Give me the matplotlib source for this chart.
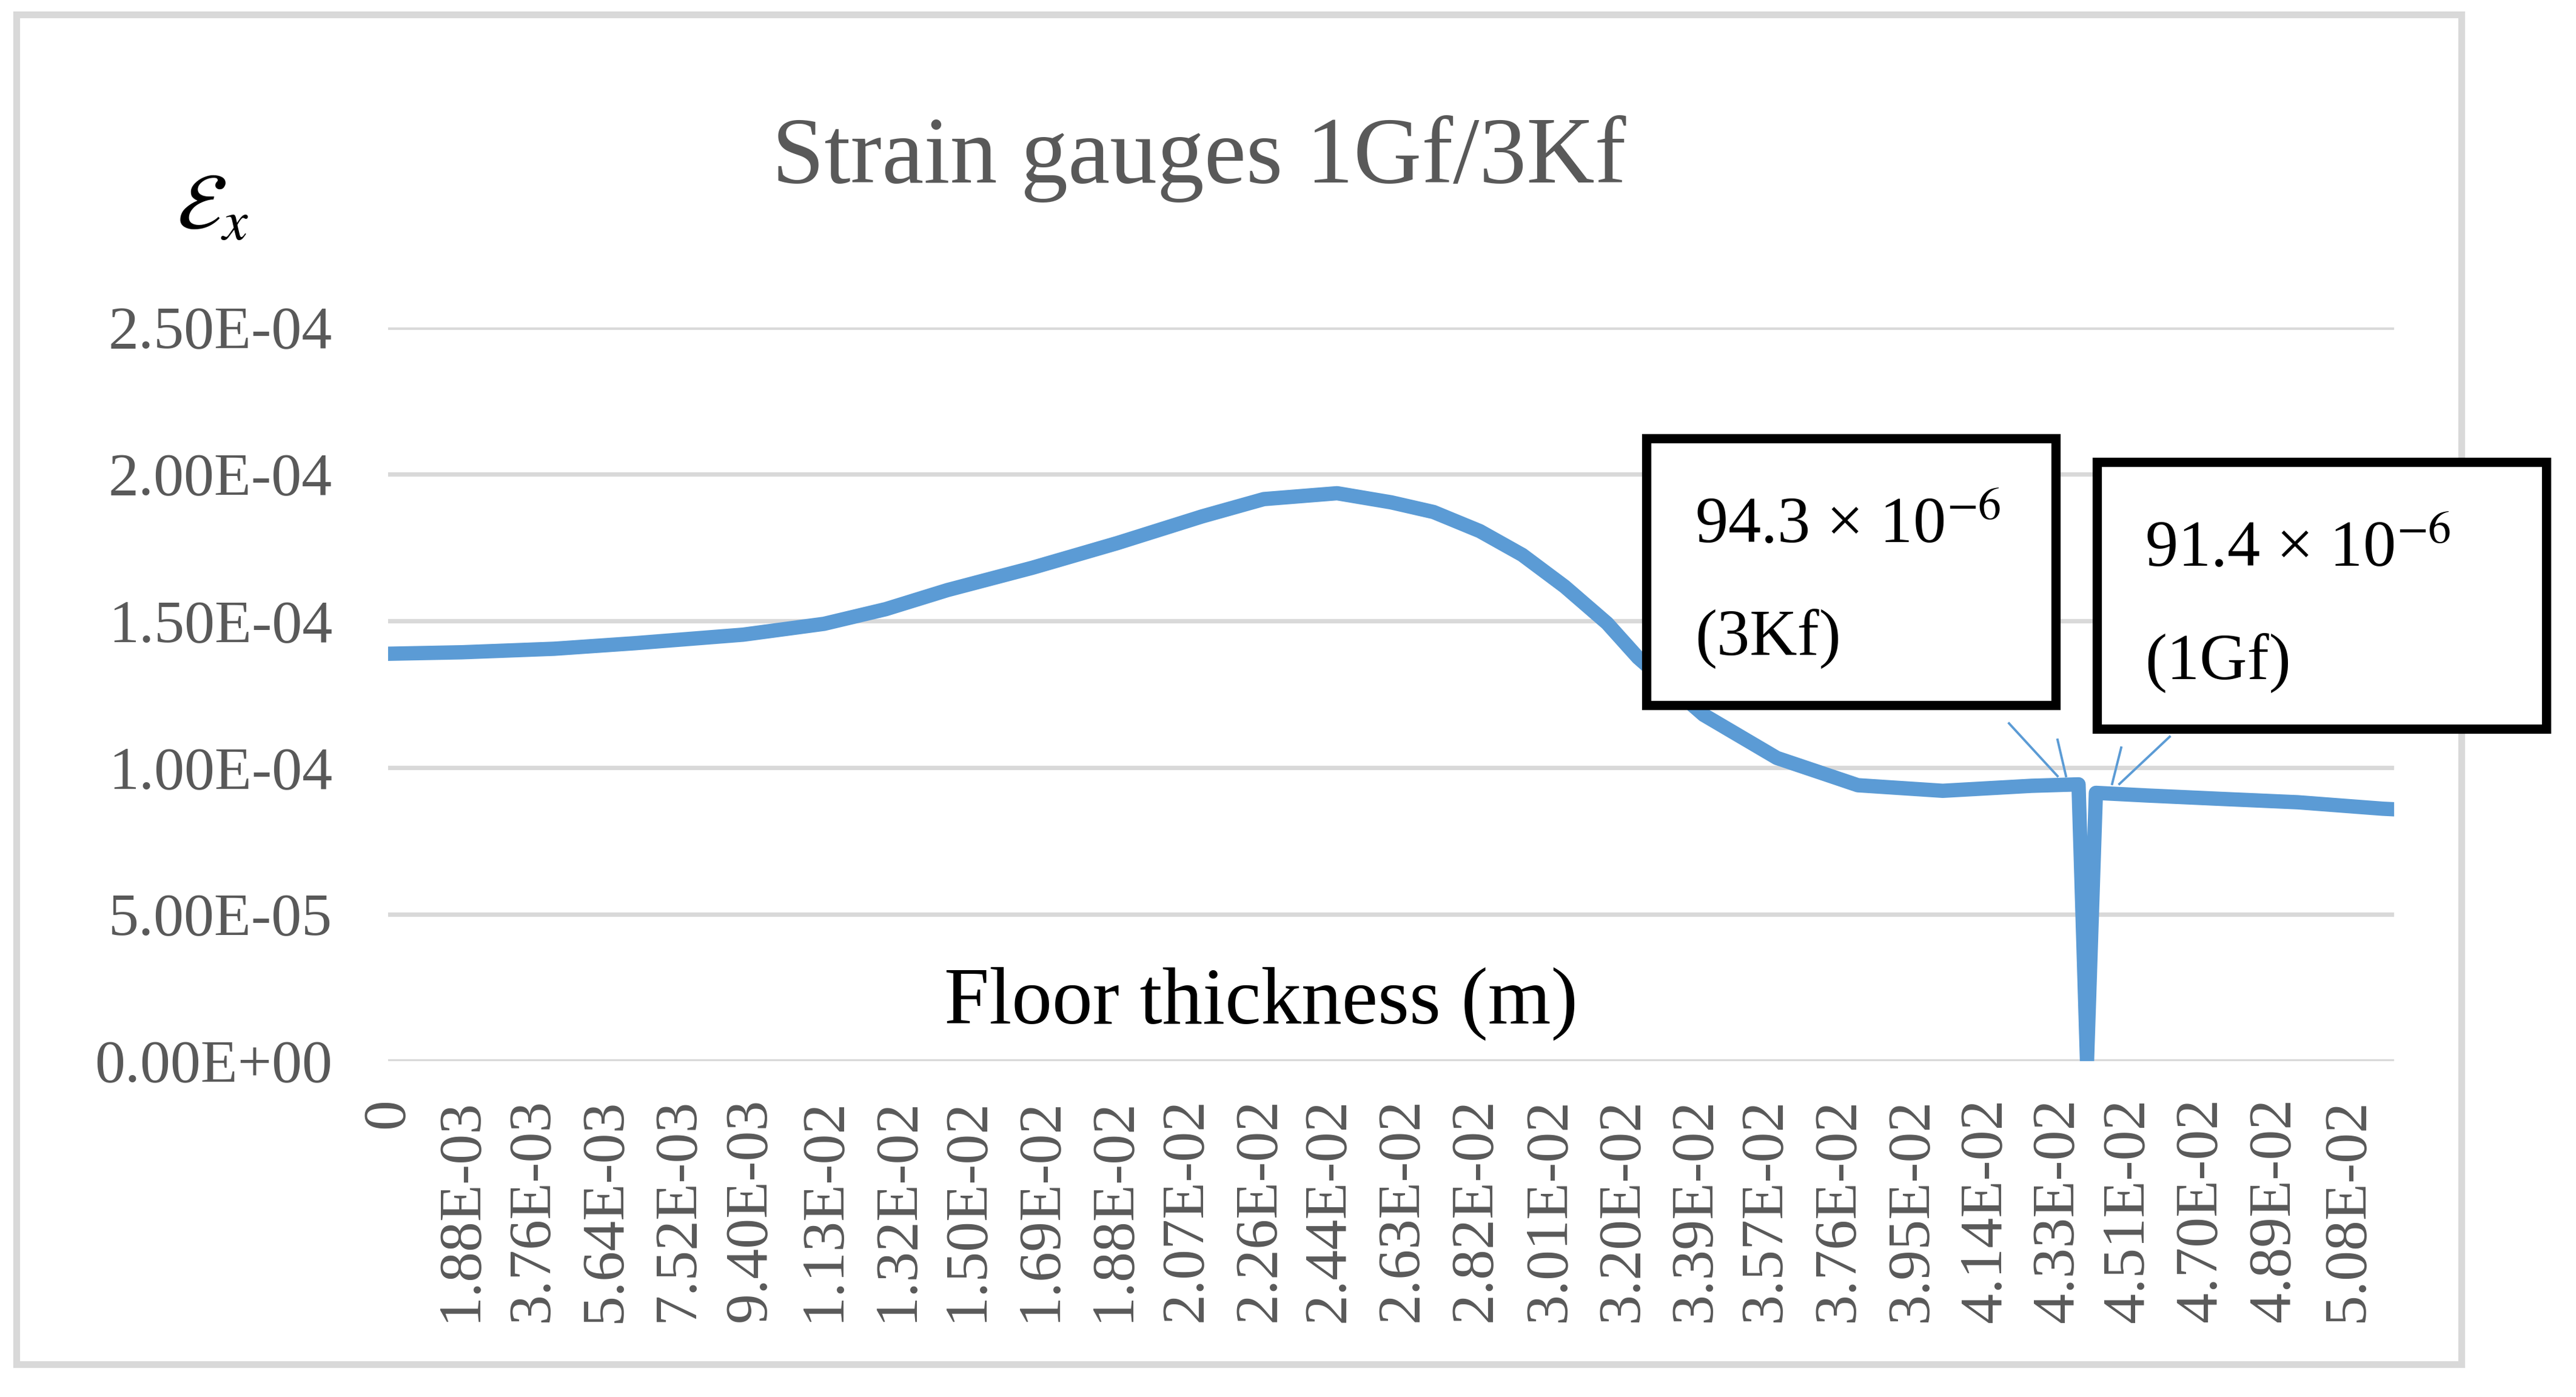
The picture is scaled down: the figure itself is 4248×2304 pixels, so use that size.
import matplotlib
matplotlib.use('Agg')
import matplotlib.pyplot as plt
from matplotlib.patches import Rectangle
from matplotlib.lines import Line2D

plt.rcParams['font.family'] = ['Liberation Serif', 'DejaVu Serif']
plt.rcParams['mathtext.fontset'] = 'stix'

# ---- data ----
thickness = [0.0, 0.0019, 0.0043, 0.0064, 0.0092, 0.0113, 0.0129, 0.0145,
             0.0167, 0.0189, 0.0211, 0.0227, 0.0246, 0.0260, 0.0271, 0.0283,
             0.0294, 0.0305, 0.0316, 0.0324, 0.0341, 0.0360, 0.0381, 0.0403,
             0.0426, 0.04382, 0.04404, 0.04427, 0.0456, 0.0476, 0.0495,
             0.0517, 0.0520]
strain = [1.388e-4, 1.393e-4, 1.405e-4, 1.424e-4, 1.453e-4, 1.490e-4,
          1.540e-4, 1.605e-4, 1.681e-4, 1.765e-4, 1.856e-4, 1.915e-4,
          1.935e-4, 1.904e-4, 1.871e-4, 1.806e-4, 1.725e-4, 1.617e-4,
          1.492e-4, 1.375e-4, 1.180e-4, 1.033e-4, 0.940e-4, 0.921e-4,
          0.938e-4, 0.943e-4, 0.0, 0.914e-4, 0.905e-4, 0.893e-4, 0.882e-4,
          0.860e-4, 0.858e-4]

x_labels = ['0', '1.88E-03', '3.76E-03', '5.64E-03', '7.52E-03', '9.40E-03',
            '1.13E-02', '1.32E-02', '1.50E-02', '1.69E-02', '1.88E-02',
            '2.07E-02', '2.26E-02', '2.44E-02', '2.63E-02', '2.82E-02',
            '3.01E-02', '3.20E-02', '3.39E-02', '3.57E-02', '3.76E-02',
            '3.95E-02', '4.14E-02', '4.33E-02', '4.51E-02', '4.70E-02',
            '4.89E-02', '5.08E-02']
y_ticks = [0.0, 5e-5, 1e-4, 1.5e-4, 2e-4, 2.5e-4]
y_labels = ['0.00E+00', '5.00E-05', '1.00E-04', '1.50E-04', '2.00E-04', '2.50E-04']

callouts = [('94.3 × 10$^{-6}$', '(3Kf)'), ('91.4 × 10$^{-6}$', '(1Gf)')]

# ---- layout (pixels of the 4248x2304 canvas) ----
W, H = 4248, 2304
DPI = 200
BLUE = '#5B9BD5'
GRID = '#D9D9D9'
GREY = '#595959'


def fx(px):
    return px / W


def fy(py):
    return 1 - py / H


fig = plt.figure(figsize=(W / DPI, H / DPI), dpi=DPI)
fig.patch.set_facecolor('white')

# outer chart frame
fig.add_artist(Rectangle((fx(27), fy(2250)), fx(4059) - fx(27), (2250 - 24) / H,
                         transform=fig.transFigure, fill=False, ec=GRID, lw=4))

ax = fig.add_axes([fx(640), fy(1750), fx(3948) - fx(640), (1750 - 540) / H])
ax.plot(thickness, strain, color=BLUE, lw=8.5, solid_capstyle='round',
        solid_joinstyle='round', zorder=3)

ax.set_xlim(0, 0.0520)
ax.set_ylim(0, 2.5e-4)
ax.set_xticks([float(s) for s in x_labels])
ax.set_xticklabels(x_labels, rotation=90, fontsize=36, color=GREY, va='top')
ax.set_yticks(y_ticks)
ax.set_yticklabels(y_labels, fontsize=36, color=GREY)
ax.tick_params(axis='x', length=0, pad=22)
ax.tick_params(axis='y', length=0, pad=33)
ax.grid(axis='y', color=GRID, lw=2.6)
ax.set_axisbelow(True)
for sp in ax.spines.values():
    sp.set_visible(False)

# title, axis labels
fig.text(fx(1273), fy(301), 'Strain gauges 1Gf/3Kf', fontsize=56, color=GREY,
         va='baseline', ha='left')
fig.text(fx(291), fy(378), r'$\mathcal{E}_x$', fontsize=48, va='baseline', ha='left')
fig.text(fx(1557), fy(1688), 'Floor thickness (m)', fontsize=48, va='baseline', ha='left')

# callout boxes with leader lines
boxes = [(2715, 723, 3390, 1163, 2795, 895, 1080),
         (3458, 762, 4199, 1202, 3537, 934, 1120)]
for (x0, y0, x1, y1, tx, b1, b2), (l1, l2) in zip(boxes, callouts):
    fig.add_artist(Rectangle((fx(x0), fy(y1)), fx(x1) - fx(x0), (y1 - y0) / H,
                             transform=fig.transFigure, fc='white', ec='black',
                             lw=5.5, zorder=5))
    fig.text(fx(tx), fy(b1), l1, fontsize=39, va='baseline', zorder=6)
    fig.text(fx(tx), fy(b2), l2, fontsize=39, va='baseline', zorder=6)

leaders = [((3313, 1193), (3393, 1280)), ((3393, 1220), (3407, 1280)),
           ((3498, 1233), (3483, 1293)), ((3578, 1215), (3495, 1293))]
for (ax0, ay0), (ax1, ay1) in leaders:
    fig.add_artist(Line2D([fx(ax0), fx(ax1)], [fy(ay0), fy(ay1)],
                          transform=fig.transFigure, color=BLUE, lw=1.4, zorder=4))

fig.savefig('out.png', dpi=DPI, facecolor='white')
